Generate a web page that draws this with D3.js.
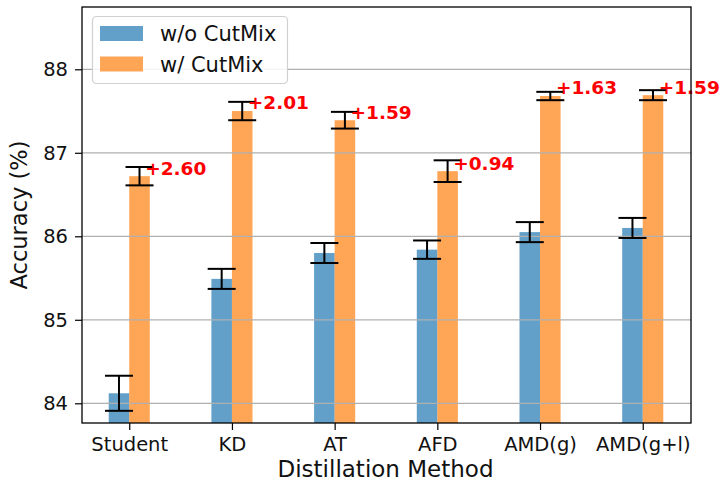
<!DOCTYPE html>
<html>
<head>
<meta charset="utf-8">
<script src="https://cdn.jsdelivr.net/npm/d3@7"></script>
<style>
  html, body { margin: 0; padding: 0; background: #ffffff; }
  svg { display: block; }
</style>
</head>
<body>
<svg id="chart" width="722" height="481"></svg>
<script>
// Accuracy of each distillation method, trained with and without CutMix
const methods = ["Student", "KD", "AT", "AFD", "AMD(g)", "AMD(g+l)"];
const accNoCutMix = [84.12, 85.49, 85.80, 85.84, 86.05, 86.10];
const errNoCutMix = [0.21, 0.12, 0.12, 0.11, 0.12, 0.12];
const accCutMix = [86.72, 87.50, 87.39, 86.78, 87.68, 87.69];
const errCutMix = [0.11, 0.11, 0.10, 0.13, 0.05, 0.06];
const yTicks = [84, 85, 86, 87, 88];
const seriesNames = ["w/o CutMix", "w/ CutMix"];

const FONT = "DejaVu Sans, sans-serif";
const TEXT_COLOR = "#111";
const colBlue = "#1f77b4", colOrange = "#ff7f0e";
const barW = 0.2, capHalf = 14;

const svg = d3.select("#chart");
svg.append("rect").attr("width", 722).attr("height", 481).attr("fill", "#fff");

const plot = { left: 82, right: 691, top: 7, bottom: 423 };
const x = d3.scaleLinear().domain([-0.46, 5.47]).range([plot.left, plot.right]);
const y = d3.scaleLinear().domain([83.764, 88.746]).range([plot.bottom, plot.top]);

const clipId = "plotclip";
svg.append("clipPath").attr("id", clipId).append("rect")
  .attr("x", plot.left).attr("y", plot.top)
  .attr("width", plot.right - plot.left).attr("height", plot.bottom - plot.top);

const rows = methods.map((m, i) => ({
  m, i,
  a: accNoCutMix[i], ea: errNoCutMix[i],
  b: accCutMix[i], eb: errCutMix[i]
}));

const barsG = svg.append("g").attr("clip-path", `url(#${clipId})`);

// bars
barsG.selectAll("rect.noMix").data(rows).join("rect")
  .attr("x", d => x(d.i - barW))
  .attr("width", d => x(barW) - x(0))
  .attr("y", d => y(d.a))
  .attr("height", d => plot.bottom - y(d.a))
  .attr("fill", colBlue).attr("fill-opacity", 0.7);

barsG.selectAll("rect.mix").data(rows).join("rect")
  .attr("x", d => x(d.i))
  .attr("width", d => x(barW) - x(0))
  .attr("y", d => y(d.b))
  .attr("height", d => plot.bottom - y(d.b))
  .attr("fill", colOrange).attr("fill-opacity", 0.7);

// horizontal grid
svg.append("g").selectAll("line").data(yTicks).join("line")
  .attr("x1", plot.left).attr("x2", plot.right)
  .attr("y1", d => y(d)).attr("y2", d => y(d))
  .attr("stroke", "#b0b0b0").attr("stroke-width", 1.2);

// error bars
function errorBars(cx, val, err) {
  const g = svg.append("g").attr("stroke", "#000").attr("stroke-width", 2).attr("fill", "none");
  rows.forEach(d => {
    const px = x(cx(d));
    g.append("line").attr("x1", px).attr("x2", px)
      .attr("y1", y(val(d) - err(d))).attr("y2", y(val(d) + err(d)));
    [val(d) - err(d), val(d) + err(d)].forEach(v => {
      g.append("line").attr("x1", px - capHalf).attr("x2", px + capHalf)
        .attr("y1", y(v)).attr("y2", y(v));
    });
  });
}
errorBars(d => d.i - barW / 2, d => d.a, d => d.ea);
errorBars(d => d.i + barW / 2, d => d.b, d => d.eb);

// gain labels above the CutMix bars
const fmtGain = d3.format("+.2f");
svg.append("g").selectAll("text").data(rows).join("text")
  .attr("x", d => x(d.i + 0.155))
  .attr("y", d => y(d.b + 0.1) + 6.8)
  .attr("font-family", FONT).attr("font-size", 18.5).attr("font-weight", "bold")
  .attr("fill", "#ff0000")
  .text(d => fmtGain(d.b - d.a));

// axes
const yAxis = d3.axisLeft(y).tickValues(yTicks).tickFormat(d3.format("d"))
  .tickSize(7).tickSizeOuter(0).tickPadding(7);
const gy = svg.append("g").attr("transform", `translate(${plot.left},0)`).call(yAxis);

const xAxis = d3.axisBottom(x).tickValues(d3.range(methods.length))
  .tickFormat(i => methods[i]).tickSize(7).tickSizeOuter(0).tickPadding(6.8);
const gx = svg.append("g").attr("transform", `translate(0,${plot.bottom})`).call(xAxis);

[gx, gy].forEach(g => {
  g.select(".domain").remove();
  g.selectAll(".tick line").attr("stroke", "#000").attr("stroke-width", 1.2);
  g.selectAll(".tick text").attr("font-family", FONT).attr("font-size", 19.5).attr("fill", TEXT_COLOR);
});

// frame
svg.append("rect")
  .attr("x", plot.left).attr("y", plot.top)
  .attr("width", plot.right - plot.left).attr("height", plot.bottom - plot.top)
  .attr("fill", "none").attr("stroke", "#000").attr("stroke-width", 1.3);

// axis titles
svg.append("text")
  .attr("x", (plot.left + plot.right) / 2 - 1).attr("y", 476.5)
  .attr("text-anchor", "middle")
  .attr("font-family", FONT).attr("font-size", 23).attr("fill", TEXT_COLOR)
  .text("Distillation Method");

svg.append("text")
  .attr("transform", `translate(27,${(plot.top + plot.bottom) / 2}) rotate(-90)`)
  .attr("text-anchor", "middle")
  .attr("font-family", FONT).attr("font-size", 22.5).attr("fill", TEXT_COLOR)
  .text("Accuracy (%)");

// legend
const leg = svg.append("g");
leg.append("rect")
  .attr("x", 92.5).attr("y", 16.5).attr("width", 195).attr("height", 67).attr("rx", 4)
  .attr("fill", "#fff").attr("fill-opacity", 0.85)
  .attr("stroke", "#d0d0d0").attr("stroke-width", 1.2);
const legItems = [
  { name: seriesNames[0], color: colBlue, y: 26 },
  { name: seriesNames[1], color: colOrange, y: 56.5 }
];
legItems.forEach(it => {
  leg.append("rect").attr("x", 100).attr("y", it.y).attr("width", 43).attr("height", 15)
    .attr("fill", it.color).attr("fill-opacity", 0.7);
  leg.append("text").attr("x", 160).attr("y", it.y + 15.3)
    .attr("font-family", FONT).attr("font-size", 21).attr("fill", TEXT_COLOR)
    .text(it.name);
});
</script>
</body>
</html>
